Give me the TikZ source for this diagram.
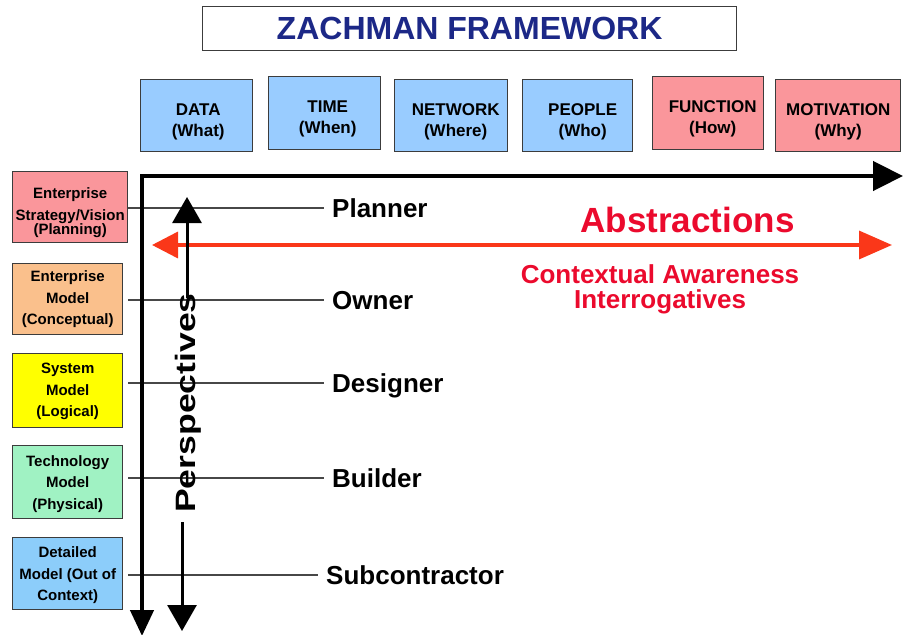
\documentclass[tikz,border=0pt]{standalone}
\usepackage{fontspec}
\setmainfont{Liberation Sans}
\usetikzlibrary{arrows.meta}

\definecolor{boxblue}{RGB}{153,204,255}
\definecolor{boxpink}{RGB}{250,150,155}
\definecolor{boxorange}{RGB}{250,192,140}
\definecolor{boxyellow}{RGB}{255,255,0}
\definecolor{boxgreen}{RGB}{160,242,195}
\definecolor{boxsky}{RGB}{140,205,250}
\definecolor{edgegray}{RGB}{60,60,60}
\definecolor{titlenavy}{RGB}{28,40,135}
\definecolor{arrowred}{RGB}{250,55,25}
\definecolor{textred}{RGB}{235,10,45}

\begin{document}
\begin{tikzpicture}[x=1pt,y=-1pt,
  cell/.style={draw=edgegray, line width=1.4pt, inner sep=0pt, anchor=north west},
  toptext/.style={font=\fontsize{17}{21}\bfseries\selectfont, align=center, inner sep=0pt},
  sidetext/.style={font=\fontsize{15}{21.5}\bfseries\selectfont, align=center, inner sep=0pt},
  role/.style={font=\fontsize{26}{26}\bfseries\selectfont, anchor=west, inner xsep=8pt,
               inner ysep=0pt, text height=18.6pt, text depth=0pt},
  link/.style={line width=1.4pt, black!72},
  axis/.style={line width=4.5pt, black},
  persparrow/.style={line width=3pt, black, -{Triangle[length=26pt,width=29pt]}},
]
\useasboundingbox (0,0) rectangle (904,634);

% title
\node[cell, fill=white, line width=1.2pt, minimum width=534pt, minimum height=44pt,
      font=\fontsize{32}{32}\bfseries\selectfont, text=titlenavy]
  (title) at (202,6) {ZACHMAN FRAMEWORK};

% interrogative columns
\node[cell, fill=boxblue, minimum width=112pt, minimum height=72pt] (data) at (140,79) {};
\node[cell, fill=boxblue, minimum width=112pt, minimum height=73pt] (time) at (268,76) {};
\node[cell, fill=boxblue, minimum width=113pt, minimum height=72pt] (network) at (394,79) {};
\node[cell, fill=boxblue, minimum width=110pt, minimum height=72pt] (people) at (522,79) {};
\node[cell, fill=boxpink, minimum width=111pt, minimum height=73pt] (function) at (652,76) {};
\node[cell, fill=boxpink, minimum width=125pt, minimum height=72pt] (motivation) at (775,79) {};

\node[toptext] (dataT) at ([xshift=1.5pt,yshift=-6pt]data.center) {DATA\\(What)};
\node[toptext] (timeT) at ([xshift=3pt,yshift=-6pt]time.center) {TIME\\(When)};
\node[toptext] (networkT) at ([xshift=4.5pt,yshift=-6pt]network.center) {NETWORK\\(Where)};
\node[toptext] (peopleT) at ([xshift=5pt,yshift=-6pt]people.center) {PEOPLE\\(Who)};
\node[toptext] (functionT) at ([xshift=4.5pt,yshift=-6pt]function.center) {FUNCTION\\(How)};
\node[toptext] (motivationT) at ([yshift=-6pt]motivation.center) {MOTIVATION\\(Why)};

% perspective rows
\node[cell, fill=boxpink, minimum width=115pt, minimum height=71pt] (plan) at (12,171) {};
\node[cell, fill=boxorange, minimum width=110pt, minimum height=71pt] (emodel) at (12,263) {};
\node[cell, fill=boxyellow, minimum width=110pt, minimum height=74pt] (sysm) at (12,353) {};
\node[cell, fill=boxgreen, minimum width=110pt, minimum height=73pt] (tech) at (12,445) {};
\node[cell, fill=boxsky, minimum width=110pt, minimum height=72pt] (detail) at (12,537) {};

\node[sidetext] (planT) at ([yshift=-5.4pt]plan.center) {Enterprise\\Strategy/Vision\\[-7.5pt](Planning)};
\node[sidetext] (emodelT) at (emodel.center) {Enterprise\\Model\\(Conceptual)};
\node[sidetext] (sysmT) at ([yshift=-1pt]sysm.center) {System\\Model\\(Logical)};
\node[sidetext] (techT) at ([yshift=-1.5pt]tech.center) {Technology\\Model\\(Physical)};
\node[sidetext] (detailT) at ([yshift=-1.5pt]detail.center) {Detailed\\Model (Out of\\Context)};

% roles
\node[role] (planner) at (324,208) {Planner};
\node[role] (owner) at (324,300) {Owner};
\node[role] (designer) at (324,383) {Designer};
\node[role] (builder) at (324,478) {Builder};
\node[role] (subcon) at (318,575) {Subcontractor};

\draw[link] (plan.east |- planner.west) -- (planner.west);
\draw[link] ([xshift=5pt]emodel.east |- owner.west) -- (owner.west);
\draw[link] ([xshift=5pt]sysm.east |- designer.west) -- (designer.west);
\draw[link] ([xshift=5pt]tech.east |- builder.west) -- (builder.west);
\draw[link] ([xshift=5pt]detail.east |- subcon.west) -- (subcon.west);

% abstraction arrow
\coordinate (absL) at (152,245);
\coordinate (absR) at (892,245);
\draw[line width=3.5pt, arrowred,
      {Triangle[length=26pt,width=26pt]}-{Triangle[length=33pt,width=28pt]}] (absL) -- (absR);

\node[font=\fontsize{35}{35}\bfseries\selectfont, text=textred, anchor=base, inner sep=0pt]
  (abstr) at (687.5,232) {Abstractions};
\node[font=\fontsize{26}{25}\bfseries\selectfont, text=textred, align=center, inner sep=0pt]
  (context) at (660,289) {Contextual Awareness\\Interrogatives};

% main axes
\coordinate (axisBottom) at (142,636);
\coordinate (axisRight) at (903,176);
\draw[axis, {Triangle[length=26pt,width=23pt]}-{Triangle[length=30pt,width=29pt]}]
  (axisBottom) |- (axisRight);

% perspectives arrow
\node[font=\fontsize{28}{28}\bfseries\selectfont, rotate=90, anchor=base, inner sep=0pt]
  (persp) at (195,403) {\scalebox{1.27}[1]{Perspectives}};
\coordinate (upTail) at (187,298);
\coordinate (upTip) at (187,197);
\coordinate (downTail) at (182,522);
\coordinate (downTip) at (182,631);
\draw[persparrow] (upTail) -- (upTip);
\draw[persparrow] (downTail) -- (downTip);
\end{tikzpicture}
\end{document}
